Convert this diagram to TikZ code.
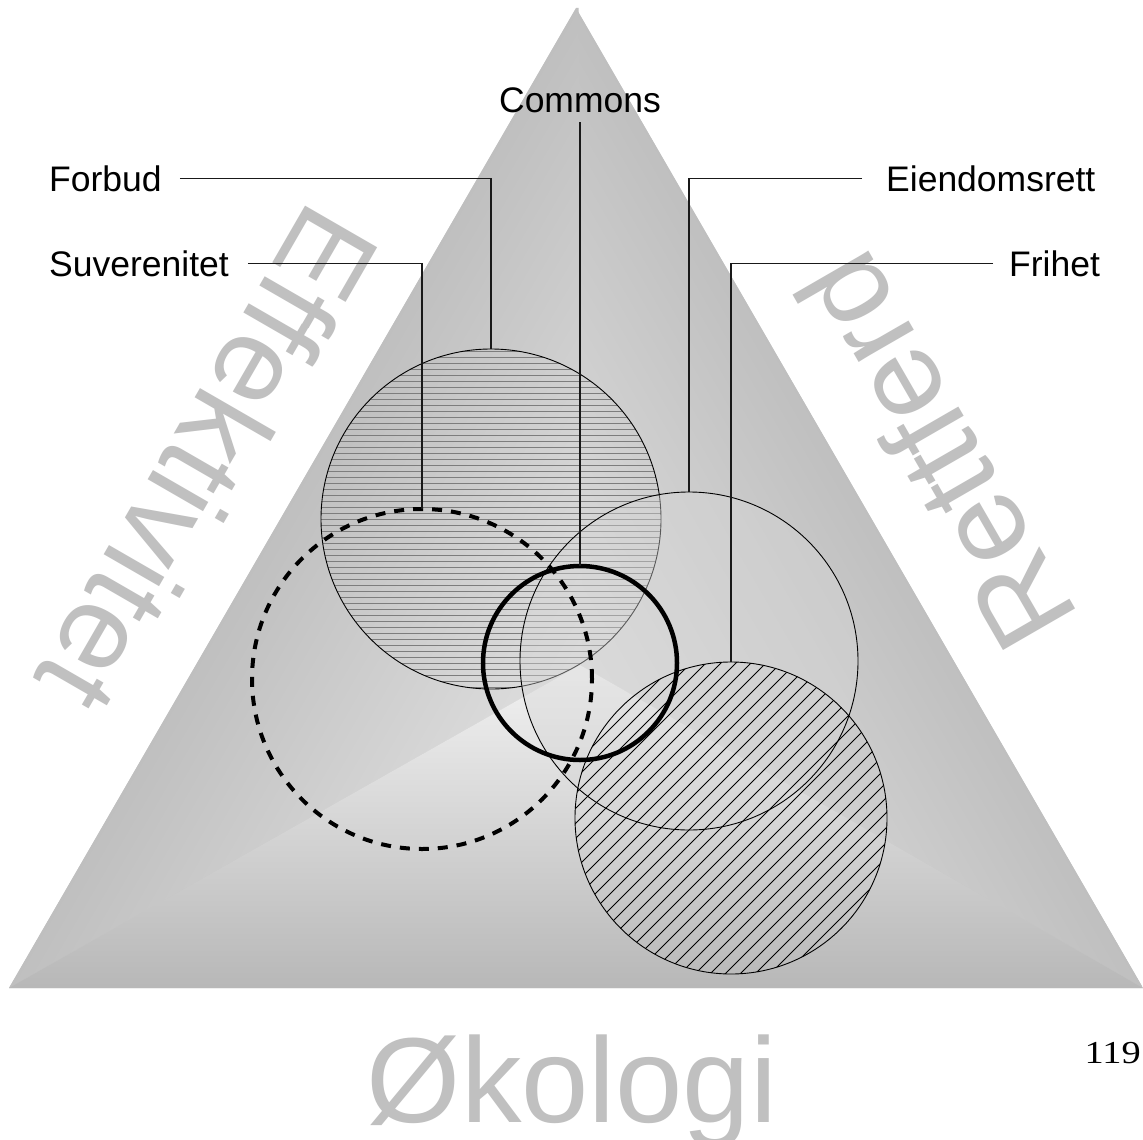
\documentclass[tikz,border=0pt]{standalone}
\usepackage{fontspec}
\setmainfont{Liberation Sans}
\newfontfamily\serifnum{Liberation Serif}
\definecolor{edgeC}{gray}{0.75}
\definecolor{midC}{gray}{0.87}
\definecolor{baseC}{gray}{0.78}
\definecolor{botTop}{gray}{0.95}
\definecolor{botMid}{gray}{0.87}
\definecolor{botBot}{gray}{0.72}
\definecolor{wm}{RGB}{192,192,192}
\definecolor{hatchH}{RGB}{125,125,125}
\definecolor{efill}{gray}{0.84}
\tikzset{
  ring/.style={circle, draw=black, line width=0.9pt, inner sep=0pt, outer sep=0pt},
  lbl/.style={font=\fontsize{35.5}{36}\selectfont, inner sep=0pt, text height=25.4pt, text depth=0pt},
  wmark/.style={font=\fontsize{121}{121}\selectfont, text=wm, inner sep=0pt},
  lead/.style={draw=black!90, line width=1.2pt},
}
\begin{document}
\begin{tikzpicture}[x=1pt,y=1pt]
\useasboundingbox (0,0) rectangle (1143,-1140);
\fill[white] (0,0) rectangle (1143,-1140);
% pyramid
\coordinate (A) at (576,-8);
\coordinate (L) at (9,-988);
\coordinate (R) at (1143,-988);
\coordinate (P) at (580,-665);
\fill[baseC] (A) -- (L) -- (R) -- cycle;
\begin{scope}
  \clip (A) -- (R) -- (P) -- cycle;
  \begin{scope}[transform canvas={shift={(1143,-988)}, rotate=120.06}]
    \shade[bottom color=edgeC, top color=midC] (0,0) rectangle (1140,331);
  \end{scope}
\end{scope}
\begin{scope}
  \clip (A) -- (L) -- (P) -- (582.5,-665) -- (578.5,-8) -- cycle;
  \begin{scope}[transform canvas={shift={(9,-988)}, rotate=59.94}]
    \shade[top color=edgeC, bottom color=midC] (0,0) rectangle (1140,-333);
  \end{scope}
\end{scope}
\shade[top color=botTop, middle color=botMid, bottom color=botBot] (L) -- (R) -- (P) -- cycle;
% watermark words
\node[wmark, anchor=base] (tOk) at (572,-1122) {Økologi};
\node[wmark, anchor=base, rotate=-120] (tEff) at (172,-438) {Effektivitet};
\node[wmark, anchor=base, rotate=120] (tRet) at (972.5,-431) {Rettferd};
% circles
\node[ring, minimum size=340pt, path picture={
  \foreach \k in {-29,...,29}{
    \draw[hatchH, line width=0.9pt] ([shift={(-180pt,\k*6pt)}]path picture bounding box.center) -- ++(360pt,0pt);}
  }] (cF) at (491,-519) {};
\node[ring, minimum size=338pt, fill=efill, fill opacity=0.42] (cE) at (689,-661) {};
\node[ring, minimum size=312pt, path picture={
  \foreach \k in {-17,...,17}{
    \draw[black, line width=0.8pt] ([shift={(\k*15pt-200pt,-200pt)}]path picture bounding box.center) -- ++(400pt,400pt);}
  }] (cR) at (731,-818) {};
\node[circle, draw=black, line width=4pt, dash pattern=on 10pt off 9pt, inner sep=0pt, outer sep=0pt, minimum size=340pt] (cS) at (422,-679) {};
\node[circle, draw=black, line width=4.5pt, inner sep=0pt, outer sep=0pt, minimum size=194pt] (cC) at (580,-663) {};
% labels
\node[lbl, anchor=base] (tC) at (580,-112) {Commons};
\node[lbl, anchor=base west] (tF) at (49,-191) {Forbud};
\node[lbl, anchor=base west] (tS) at (49,-276) {Suverenitet};
\node[lbl, anchor=base west] (tE) at (886,-191) {Eiendomsrett};
\node[lbl, anchor=base west] (tR) at (1009,-276) {Frihet};
% leaders
\draw[lead] ([yshift=-10pt]tC.south) -- (cC.north);
\draw[lead] ([xshift=18pt]tF.east) -| (cF.north);
\draw[lead] ([xshift=19pt]tS.east) -| (cS.north);
\draw[lead] ([xshift=-24pt]tE.west) -| (cE.north);
\draw[lead] ([xshift=-16pt]tR.west) -| (cR.north);
% page number
\node[font=\serifnum\fontsize{32}{32}\selectfont, inner sep=0pt, anchor=base east, xscale=1.2] (pg) at (1141,-1063) {119};
\end{tikzpicture}
\end{document}
